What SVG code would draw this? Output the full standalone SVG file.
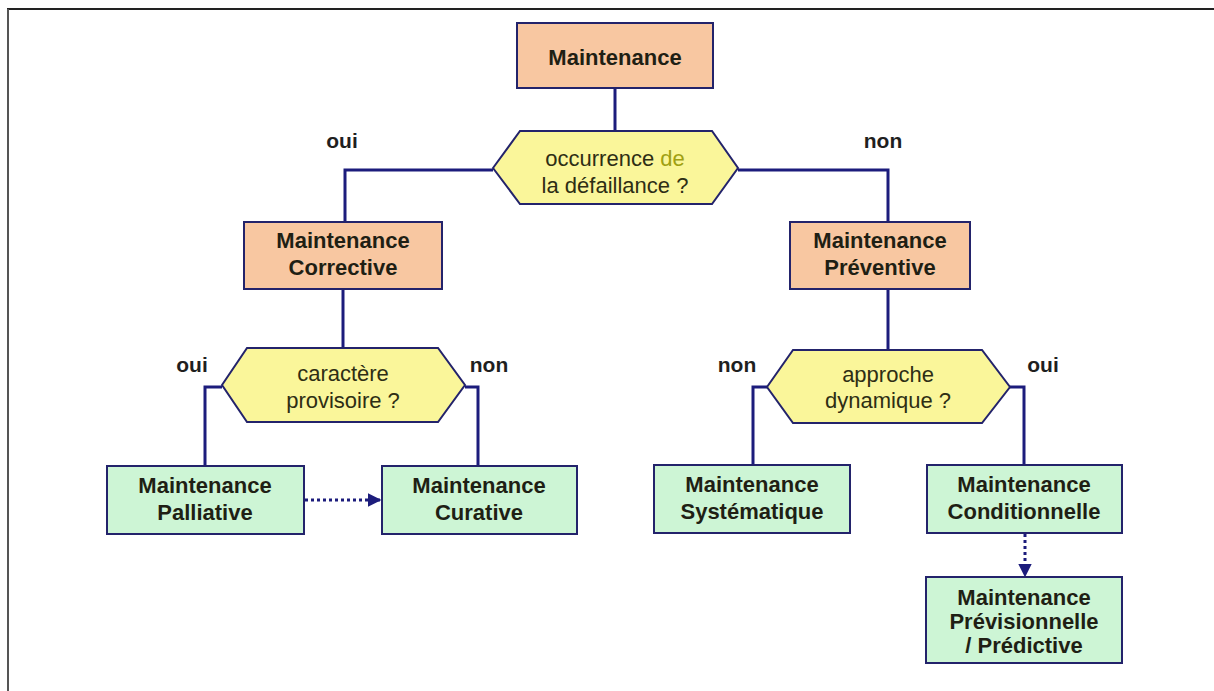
<svg xmlns="http://www.w3.org/2000/svg" width="1214" height="691" viewBox="0 0 1214 691">
<defs>
<style>
.box{stroke:#23236b;stroke-width:2}
.s{fill:#F8C7A1}
.g{fill:#CDF5D5}
.h{fill:#FAF69A;stroke:#23236b;stroke-width:2}
.bt{font-family:"Liberation Sans",Arial,sans-serif;font-weight:bold;font-size:22px;fill:#1f1f14;text-anchor:middle}
.ht{font-family:"Liberation Sans",Arial,sans-serif;font-size:22px;fill:#2e2e14;text-anchor:middle}
.lb{font-family:"Liberation Sans",Arial,sans-serif;font-weight:bold;font-size:21px;fill:#1f1f1f;text-anchor:middle}
.c{fill:none;stroke:#1c1c7c;stroke-width:3}
.d{fill:none;stroke:#1c1c7c;stroke-width:3;stroke-dasharray:3 3}
</style>
<marker id="ah" viewBox="0 0 10 10" refX="9" refY="5" markerWidth="4.5" markerHeight="4.5" orient="auto" markerUnits="strokeWidth">
<path d="M0,0 L10,5 L0,10 z" fill="#1c1c7c"/>
</marker>
</defs>
<rect width="1214" height="691" fill="#ffffff"/>
<line x1="7" y1="9" x2="1214" y2="9" stroke="#222" stroke-width="2"/>
<line x1="8" y1="9" x2="8" y2="691" stroke="#555" stroke-width="2"/>

<g id="connectors">
<path class="c" d="M615,88 V131"/>
<path class="c" d="M493,170 H345 V222"/>
<path class="c" d="M738,170 H888 V222"/>
<path class="c" d="M343,289 V348"/>
<path class="c" d="M222,387 H205 V466"/>
<path class="c" d="M465,387 H478 V466"/>
<path class="c" d="M888,289 V350"/>
<path class="c" d="M767,387 H753 V465"/>
<path class="c" d="M1010,387 H1024 V465"/>
<path class="d" d="M305,500 H380" marker-end="url(#ah)"/>
<path class="d" d="M1025,534 V576" marker-end="url(#ah)"/>
</g>

<g id="labels">
<text class="lb" x="342" y="148">oui</text>
<text class="lb" x="883" y="148">non</text>
<text class="lb" x="192" y="372">oui</text>
<text class="lb" x="489" y="372">non</text>
<text class="lb" x="737" y="372">non</text>
<text class="lb" x="1043" y="372">oui</text>
</g>

<g id="n-maintenance">
<rect class="box s" x="517" y="23" width="196" height="65"/>
<text class="bt" x="615" y="65">Maintenance</text>
</g>

<g id="q-occurrence">
<polygon class="h" points="493,168 520,131 712,131 738,168 712,204 520,204"/>
<text class="ht" x="615" y="166">occurrence <tspan fill="#a0a012">de</tspan></text>
<text class="ht" x="615" y="193">la défaillance ?</text>
</g>

<g id="n-corrective">
<rect class="box s" x="244" y="222" width="198" height="67"/>
<text class="bt" x="343" y="248">Maintenance</text>
<text class="bt" x="343" y="275">Corrective</text>
</g>

<g id="n-preventive">
<rect class="box s" x="790" y="222" width="180" height="67"/>
<text class="bt" x="880" y="248">Maintenance</text>
<text class="bt" x="880" y="275">Préventive</text>
</g>

<g id="q-provisoire">
<polygon class="h" points="222,385 247,348 438,348 465,385 438,422 247,422"/>
<text class="ht" x="343" y="381">caractère</text>
<text class="ht" x="343" y="408">provisoire ?</text>
</g>

<g id="q-dynamique">
<polygon class="h" points="767,387 793,350 982,350 1010,387 982,423 793,423"/>
<text class="ht" x="888" y="382">approche</text>
<text class="ht" x="888" y="408">dynamique ?</text>
</g>

<g id="n-palliative">
<rect class="box g" x="107" y="466" width="197" height="68"/>
<text class="bt" x="205" y="493">Maintenance</text>
<text class="bt" x="205" y="520">Palliative</text>
</g>

<g id="n-curative">
<rect class="box g" x="382" y="466" width="195" height="68"/>
<text class="bt" x="479" y="493">Maintenance</text>
<text class="bt" x="479" y="520">Curative</text>
</g>

<g id="n-systematique">
<rect class="box g" x="654" y="465" width="196" height="68"/>
<text class="bt" x="752" y="492">Maintenance</text>
<text class="bt" x="752" y="519">Systématique</text>
</g>

<g id="n-conditionnelle">
<rect class="box g" x="927" y="465" width="195" height="68"/>
<text class="bt" x="1024" y="492">Maintenance</text>
<text class="bt" x="1024" y="519">Conditionnelle</text>
</g>

<g id="n-previsionnelle">
<rect class="box g" x="926" y="577" width="196" height="86"/>
<text class="bt" x="1024" y="605">Maintenance</text>
<text class="bt" x="1024" y="629">Prévisionnelle</text>
<text class="bt" x="1024" y="653">/ Prédictive</text>
</g>
</svg>
